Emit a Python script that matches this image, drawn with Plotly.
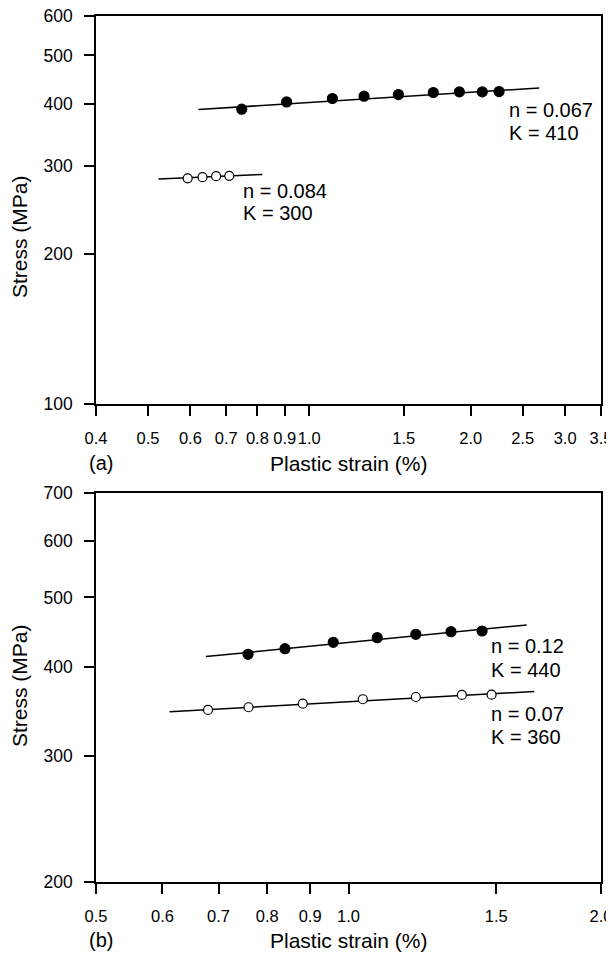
import numpy as np
import plotly.graph_objects as go

# page is rendered with an 8px body margin, so the figure is shifted by OFF
OFF = 8
PAGE_W, PAGE_H = 614, 953
W, H = PAGE_W - OFF, PAGE_H - OFF
# plot frame in page pixels: left 96, right 601, top 16, bottom 882
L, R, T = 96 - OFF, PAGE_W - 601, 16 - OFF
B = H - (882 - OFF)

# ---------------- Panel (a) data ----------------
a_filled_strain = [0.748, 0.907, 1.104, 1.265, 1.466, 1.703, 1.905, 2.102, 2.259]
a_filled_stress = [390.2, 403.5, 409.9, 414.3, 417.5, 421.4, 422.6, 422.6, 423.3]
a_filled_fit_strain = [0.621, 2.685]
a_filled_fit_stress = [389.6, 430.3]
a_open_strain = [0.593, 0.632, 0.670, 0.709]
a_open_stress = [283.5, 285.1, 286.4, 286.8]
a_open_fit_strain = [0.523, 0.817]
a_open_fit_stress = [282.5, 288.7]
a_xticks = [0.4, 0.5, 0.6, 0.7, 0.8, 0.9, 1.0, 1.5, 2.0, 2.5, 3.0, 3.5]
a_xlabels = ["0.4", "0.5", "0.6", "0.7", "0.8", "0.9", "1.0", "1.5", "2.0", "2.5", "3.0", "3.5"]
a_yticks = [100, 200, 300, 400, 500, 600]
a_ylabels = ["100", "200", "300", "400", "500", "600"]
a_fit_n = ["0.067", "0.084"]
a_fit_K = ["410", "300"]

# ---------------- Panel (b) data ----------------
b_filled_strain = [0.759, 0.840, 0.959, 1.082, 1.203, 1.325, 1.443]
b_filled_stress = [416.4, 424.0, 432.8, 439.3, 444.1, 447.8, 448.8]
b_filled_fit_strain = [0.676, 1.631]
b_filled_fit_stress = [413.3, 457.7]
b_open_strain = [0.680, 0.760, 0.882, 1.040, 1.203, 1.365, 1.481]
b_open_stress = [348.1, 351.1, 355.2, 360.3, 362.9, 365.3, 365.6]
b_open_fit_strain = [0.612, 1.665]
b_open_fit_stress = [346.1, 369.4]
b_xticks = [0.5, 0.6, 0.7, 0.8, 0.9, 1.0, 1.5, 2.0]
b_xlabels = ["0.5", "0.6", "0.7", "0.8", "0.9", "1.0", "1.5", "2.0"]
b_yticks = [200, 300, 400, 500, 600, 700]
b_ylabels = ["200", "300", "400", "500", "600", "700"]
b_fit_n = ["0.12", "0.07"]
b_fit_K = ["440", "360"]

FONT = "Liberation Sans, Arial, Helvetica, sans-serif"
PW, PH = W - L - R, H - T - B


def paper(x, y):
    # page pixel -> paper coordinates
    fx, fy = x - OFF, y - OFF
    return (fx - L) / PW, (H - B - fy) / PH


fig = go.Figure()


def add_series(xs, ys, fx, fy, filled, xa, ya):
    fig.add_trace(go.Scatter(x=fx, y=fy, mode="lines", xaxis=xa, yaxis=ya,
                             line=dict(color="black", width=1.5), showlegend=False,
                             hoverinfo="skip"))
    fig.add_trace(go.Scatter(
        x=xs, y=ys, mode="markers", xaxis=xa, yaxis=ya, showlegend=False,
        marker=dict(size=10 if filled else 9, color="black" if filled else "white",
                    line=dict(color="black", width=1.2), symbol="circle")))


add_series(a_filled_strain, a_filled_stress, a_filled_fit_strain, a_filled_fit_stress, True, "x", "y")
add_series(a_open_strain, a_open_stress, a_open_fit_strain, a_open_fit_stress, False, "x", "y")
add_series(b_filled_strain, b_filled_stress, b_filled_fit_strain, b_filled_fit_stress, True, "x2", "y2")
add_series(b_open_strain, b_open_stress, b_open_fit_strain, b_open_fit_stress, False, "x2", "y2")


def axis(tickvals, ticktext, rng, domain, anchor, size):
    return dict(type="log", range=rng, domain=domain, anchor=anchor,
                tickvals=tickvals, ticktext=ticktext, tickangle=0,
                automargin=False,
                showline=True, linecolor="black", linewidth=1.5, mirror=True,
                ticks="outside", ticklen=10, tickwidth=1.5, tickcolor="black",
                showgrid=False, zeroline=False, ticklabelstandoff=8,
                tickfont=dict(size=size, color="black", family=FONT))


top_dom = [(882 - 404) / PH, 1.0]
bot_dom = [0.0, (882 - 493) / PH]

annotations = []


def txt(text, x, y, xanchor="left", size=20, angle=0):
    px_, py_ = paper(x, y)
    annotations.append(dict(text=text, x=px_, y=py_, xref="paper", yref="paper",
                            xanchor=xanchor, yanchor="middle", showarrow=False,
                            textangle=angle,
                            font=dict(size=size, color="black", family=FONT)))


# fit labels
txt("n = " + a_fit_n[0], 507, 110)
txt("K = " + a_fit_K[0], 507, 133)
txt("n = " + a_fit_n[1], 241, 191)
txt("K = " + a_fit_K[1], 241, 213)
txt("n = " + b_fit_n[0], 489, 646)
txt("K = " + b_fit_K[0], 489, 670)
txt("n = " + b_fit_n[1], 489, 714)
txt("K = " + b_fit_K[1], 489, 737)

# axis titles
txt("Stress (MPa)", 19, 237, xanchor="center", size=21, angle=-90)
txt("Stress (MPa)", 19, 686, xanchor="center", size=21, angle=-90)
txt("Plastic strain (%)", 349, 463, xanchor="center", size=21)
txt("Plastic strain (%)", 349, 940, xanchor="center", size=21)
txt("(a)", 87, 463, size=20)
txt("(b)", 87, 940, size=20)

fig.update_layout(
    width=W, height=H,
    margin=dict(l=L, r=R, t=T, b=B, autoexpand=False),
    paper_bgcolor="white", plot_bgcolor="white",
    showlegend=False,
    xaxis=axis(a_xticks, a_xlabels, [np.log10(0.4), np.log10(3.5)], [0, 1], "y", 16.5),
    yaxis=axis(a_yticks, a_ylabels, [np.log10(100), np.log10(600)], top_dom, "x", 17.5),
    xaxis2=axis(b_xticks, b_xlabels, [np.log10(0.5), np.log10(2.0)], [0, 1], "y2", 16.5),
    yaxis2=axis(b_yticks, b_ylabels, [np.log10(200), np.log10(700)], bot_dom, "x2", 17.5),
    annotations=annotations,
)

fig.write_html("out.html")
